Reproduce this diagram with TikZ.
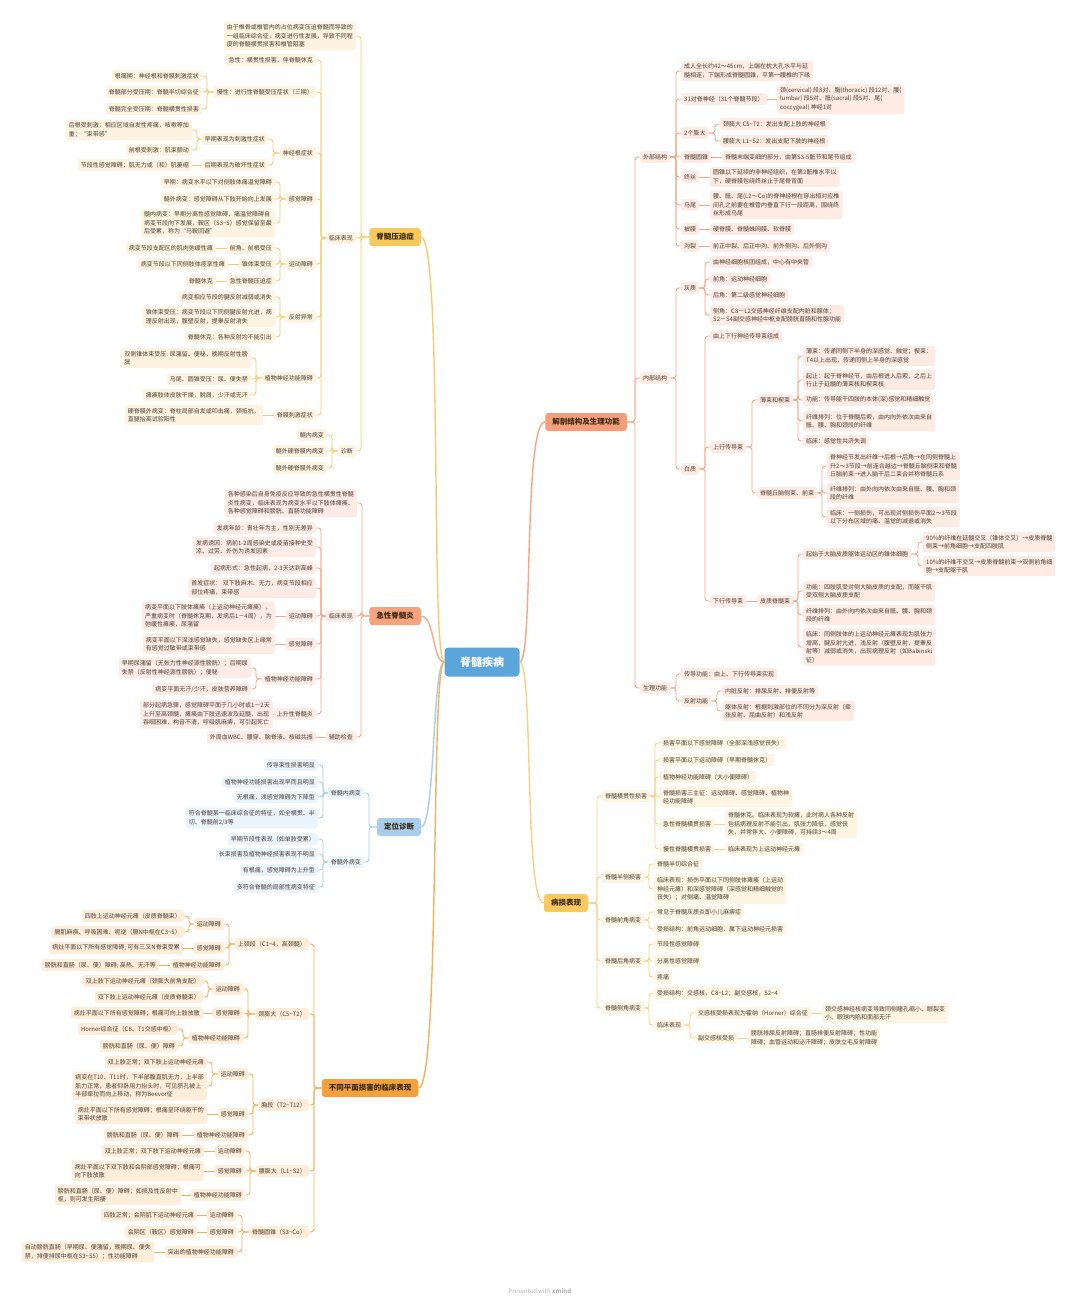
\documentclass[tikz,border=0pt]{standalone}
\usepackage{fontspec}
\newfontfamily\cjk{Noto Sans CJK SC}
\usepackage{tikz}
\usepackage{xcolor}
\definecolor{ctrB}{HTML}{5AA6DA}
\definecolor{txt}{HTML}{4A3F35}
\definecolor{hubtxt}{HTML}{3B2A14}
\definecolor{yMain}{HTML}{F8C95B}\definecolor{yLeaf}{HTML}{FDF3E0}\definecolor{yLine}{HTML}{F6CC70}
\definecolor{sMain}{HTML}{F6A27C}\definecolor{sLeaf}{HTML}{FDECE5}\definecolor{sLine}{HTML}{F6AA88}
\definecolor{bMain}{HTML}{A8CDEE}\definecolor{bLeaf}{HTML}{EBF3FB}\definecolor{bLine}{HTML}{A9CCEA}
\definecolor{oMain}{HTML}{F3A23B}\definecolor{oLeaf}{HTML}{FDEDD9}\definecolor{oLine}{HTML}{F4B05A}
\definecolor{cMain}{HTML}{F59E7A}\definecolor{cLeaf}{HTML}{FDEBE4}\definecolor{cLine}{HTML}{F6A585}
\definecolor{gMain}{HTML}{F8C95E}\definecolor{gLeaf}{HTML}{FDF4E1}\definecolor{gLine}{HTML}{F8D282}

\begin{document}
\begin{tikzpicture}[x=1pt,y=-1pt,
  leaf/.style={rounded corners=2.5pt,inner xsep=3pt,inner ysep=3pt,align=left,
               text=txt,font=\cjk\fontsize{6}{8.5}\selectfont},
  yl/.style={leaf,fill=yLeaf,anchor=east}, sl/.style={leaf,fill=sLeaf,anchor=east},
  bl/.style={leaf,fill=bLeaf,anchor=east}, ol/.style={leaf,fill=oLeaf,anchor=east},
  cl/.style={leaf,fill=cLeaf,anchor=west}, gl/.style={leaf,fill=gLeaf,anchor=west},
  hub/.style={rounded corners=3pt,inner xsep=7pt,minimum height=18pt,text=hubtxt,
              font=\cjk\fontsize{7.5}{9}\selectfont\bfseries},
  ctr/.style={rounded corners=4pt,fill=ctrB,text=white,minimum width=75pt,minimum height=29pt,
              font=\cjk\fontsize{11}{13}\selectfont\bfseries},
  lnY/.style={yLine,line width=0.9pt,rounded corners=3pt},
  lnS/.style={sLine,line width=0.9pt,rounded corners=3pt},
  lnB/.style={bLine,line width=0.9pt,rounded corners=3pt},
  lnO/.style={oLine,line width=0.9pt,rounded corners=3pt},
  lnC/.style={cLine,line width=0.9pt,rounded corners=3pt},
  lnG/.style={gLine,line width=0.9pt,rounded corners=3pt}
]
\fill[white] (0,0) rectangle (1080,1312);
\useasboundingbox (0,0) rectangle (1080,1312);

% centre
\node[ctr] (ctr) at (482,662) {脊髓疾病};

% ---- 脊髓压迫症
\node[hub,fill=yMain] (ya) at (395,237) {脊髓压迫症};
\node[yl] (yaDef)  at (356,36)  {由于椎骨或椎管内的占位病变压迫脊髓而导致的\\一组临床综合征，病变进行性发展，导致不同程\\度的脊髓横贯损害和椎管阻塞};
\node[yl] (yaClin) at (356,238) {临床表现};
\node[yl] (yaDiag) at (356,451) {诊断};
\node[yl] (yaAcu)  at (316,60)  {急性：横贯性损害，伴脊髓休克};
\node[yl] (yaChr)  at (316,92)  {慢性：进行性脊髓受压症状（三期）};
\node[yl] (yaRoot) at (316,153) {神经根症状};
\node[yl] (yaSen)  at (316,199) {感觉障碍};
\node[yl] (yaMot)  at (316,264) {运动障碍};
\node[yl] (yaRef)  at (316,317) {反射异常};
\node[yl] (yaAut)  at (316,378) {植物神经功能障碍};
\node[yl] (yaMen)  at (316,415) {脊膜刺激症状};
\node[yl] (yaChr1) at (202,76)  {根痛期：神经根和脊膜刺激症状};
\node[yl] (yaChr2) at (202,92)  {脊髓部分受压期：脊髓半切综合征};
\node[yl] (yaChr3) at (202,109) {脊髓完全受压期：脊髓横贯性损害};
\node[yl] (yaRt1)  at (268,139) {早期表现为刺激性症状};
\node[yl] (yaRt2)  at (268,165) {后期表现为破坏性症状};
\node[yl] (yaRt1a) at (192,130) {后根受刺激：相应区域自发性疼痛，咳嗽等加\\重；“束带感”};
\node[yl] (yaRt1b) at (192,150) {前根受刺激：肌束颤动};
\node[yl] (yaRt2a) at (192,165) {节段性感觉障碍；肌无力或（和）肌萎缩};
\node[yl] (yaSen1) at (275,182) {早期：病变水平以下对侧肢体痛温觉障碍};
\node[yl] (yaSen2) at (275,199) {髓外病变：感觉障碍从下肢开始向上发展};
\node[yl] (yaSen3) at (275,223) {髓内病变：早期分离性感觉障碍，痛温觉障碍自\\病变节段向下发展，鞍区（S3\textasciitilde 5）感觉保留至最\\后受累，称为“马鞍回避”};
\node[yl] (yaMot1) at (275,248) {前角、前根受压};
\node[yl] (yaMot2) at (275,264) {锥体束受压};
\node[yl] (yaMot3) at (275,281) {急性脊髓压迫症};
\node[yl] (yaMot1a) at (216,248) {病变节段支配区的肌肉弛缓性瘫};
\node[yl] (yaMot2a) at (228,264) {病变节段以下同侧肢体痉挛性瘫};
\node[yl] (yaMot3a) at (216,281) {脊髓休克};
\node[yl] (yaRef1) at (275,297) {病变相应节段的腱反射减弱或消失};
\node[yl] (yaRef2) at (275,317) {锥体束受压：病变节段以下同侧腱反射亢进，病\\理反射出现，腹壁反射，提睾反射消失};
\node[yl] (yaRef3) at (275,337) {脊髓休克：各种反射均不能引出};
\node[yl] (yaAut1) at (251,358) {双侧锥体束受压: 尿潴留、便秘，晚期反射性膀\\胱};
\node[yl] (yaAut2) at (251,379) {马尾、圆锥受压：尿、便失禁};
\node[yl] (yaAut3) at (251,395) {瘫痪肢体皮肤干燥，脱屑，少汗或无汗};
\node[yl] (yaMen1) at (263,415) {硬脊膜外病变：脊柱局部自发或叩击痛，颈抵抗，\\直腿抬高试验阳性};
\node[yl] (yaDg1)  at (327,435) {髓内病变};
\node[yl] (yaDg2)  at (327,451) {髓外硬脊膜内病变};
\node[yl] (yaDg3)  at (327,468) {髓外硬脊膜外病变};
\draw[lnY] (yaDef.east)--++(5,0)|-(ya.west); \draw[lnY] (yaClin.east)--++(5,0)|-(ya.west);
\draw[lnY] (yaDiag.east)--++(5,0)|-(ya.west);
\draw[lnY] (yaAcu.east)--++(5,0)|-(yaClin.west); \draw[lnY] (yaChr.east)--++(5,0)|-(yaClin.west);
\draw[lnY] (yaRoot.east)--++(5,0)|-(yaClin.west); \draw[lnY] (yaSen.east)--++(5,0)|-(yaClin.west);
\draw[lnY] (yaMot.east)--++(5,0)|-(yaClin.west); \draw[lnY] (yaRef.east)--++(5,0)|-(yaClin.west);
\draw[lnY] (yaAut.east)--++(5,0)|-(yaClin.west); \draw[lnY] (yaMen.east)--++(5,0)|-(yaClin.west);
\draw[lnY] (yaChr1.east)--++(5,0)|-(yaChr.west); \draw[lnY] (yaChr2.east)--++(5,0)|-(yaChr.west);
\draw[lnY] (yaChr3.east)--++(5,0)|-(yaChr.west);
\draw[lnY] (yaRt1.east)--++(5,0)|-(yaRoot.west); \draw[lnY] (yaRt2.east)--++(5,0)|-(yaRoot.west);
\draw[lnY] (yaRt1a.east)--++(5,0)|-(yaRt1.west); \draw[lnY] (yaRt1b.east)--++(5,0)|-(yaRt1.west);
\draw[lnY] (yaRt2a.east)--(yaRt2.west);
\draw[lnY] (yaSen1.east)--++(5,0)|-(yaSen.west); \draw[lnY] (yaSen2.east)--++(5,0)|-(yaSen.west);
\draw[lnY] (yaSen3.east)--++(5,0)|-(yaSen.west);
\draw[lnY] (yaMot1.east)--++(5,0)|-(yaMot.west); \draw[lnY] (yaMot2.east)--++(5,0)|-(yaMot.west);
\draw[lnY] (yaMot3.east)--++(5,0)|-(yaMot.west);
\draw[lnY] (yaMot1a.east)--(yaMot1.west); \draw[lnY] (yaMot2a.east)--(yaMot2.west);
\draw[lnY] (yaMot3a.east)--(yaMot3.west);
\draw[lnY] (yaRef1.east)--++(5,0)|-(yaRef.west); \draw[lnY] (yaRef2.east)--++(5,0)|-(yaRef.west);
\draw[lnY] (yaRef3.east)--++(5,0)|-(yaRef.west);
\draw[lnY] (yaAut1.east)--++(5,0)|-(yaAut.west); \draw[lnY] (yaAut2.east)--++(5,0)|-(yaAut.west);
\draw[lnY] (yaAut3.east)--++(5,0)|-(yaAut.west);
\draw[lnY] (yaMen1.east)--(yaMen.west);
\draw[lnY] (yaDg1.east)--++(5,0)|-(yaDiag.west); \draw[lnY] (yaDg2.east)--++(5,0)|-(yaDiag.west);
\draw[lnY] (yaDg3.east)--++(5,0)|-(yaDiag.west);

% ---- 急性脊髓炎
\node[hub,fill=sMain] (jx) at (395,616) {急性脊髓炎};
\node[sl] (jxDef)   at (357,503) {各种感染后自身免疫反应导致的急性横贯性脊髓\\炎性病变，临床表现为病变水平以下肢体瘫痪、\\各种感觉障碍和膀胱、直肠功能障碍};
\node[sl] (jxClin)  at (356,616) {临床表现};
\node[sl] (jxAux)   at (356,737) {辅助检查};
\node[sl] (jxAge)   at (316,528) {发病年龄：青壮年为主，性别无差异};
\node[sl] (jxCause) at (316,547) {发病诱因：病前1-2周感染史或疫苗接种史受\\凉、过劳、外伤为诱发因素};
\node[sl] (jxOnset) at (316,568) {起病形式：急性起病，2-3天达到高峰};
\node[sl] (jxFirst) at (316,588) {首发症状： 双下肢麻木、无力，病变节段相应\\部位疼痛，束带感};
\node[sl] (jxMot)   at (316,616) {运动障碍};
\node[sl] (jxSen)   at (316,644) {感觉障碍};
\node[sl] (jxAut)   at (316,679) {植物神经功能障碍};
\node[sl] (jxAsc)   at (316,714) {上升性脊髓炎};
\node[sl] (jxMot1)  at (275,616) {病变平面以下肢体瘫痪（上运动神经元瘫痪），\\严重病变时（脊髓休克期，发病后1－4周），为\\弛缓性瘫痪，尿潴留};
\node[sl] (jxSen1)  at (275,644) {病变平面以下深浅感觉缺失，感觉缺失区上缘常\\有感觉过敏带或束带感};
\node[sl] (jxAut1)  at (251,668) {早期尿潴留（无张力性神经源性膀胱）；后期尿\\失禁（反射性神经源性膀胱）；便秘};
\node[sl] (jxAut2)  at (251,689) {病变平面无汗/少汗，皮肤营养障碍};
\node[sl] (jxAsc1)  at (273,714) {部分起病急骤，感觉障碍平面于几小时或1－2天\\上升至高颈髓，瘫痪由下肢迅速波及延髓，出现\\吞咽困难，构音不清，呼吸肌麻痹，可引起死亡};
\node[sl] (jxAux1)  at (316,737) {外周血WBC、腰穿、脑脊液、核磁共振};
\draw[lnS] (jxDef.east)--++(5,0)|-(jx.west); \draw[lnS] (jxClin.east)--++(5,0)|-(jx.west);
\draw[lnS] (jxAux.east)--++(5,0)|-(jx.west);
\draw[lnS] (jxAge.east)--++(5,0)|-(jxClin.west); \draw[lnS] (jxCause.east)--++(5,0)|-(jxClin.west);
\draw[lnS] (jxOnset.east)--++(5,0)|-(jxClin.west); \draw[lnS] (jxFirst.east)--++(5,0)|-(jxClin.west);
\draw[lnS] (jxMot.east)--++(5,0)|-(jxClin.west); \draw[lnS] (jxSen.east)--++(5,0)|-(jxClin.west);
\draw[lnS] (jxAut.east)--++(5,0)|-(jxClin.west); \draw[lnS] (jxAsc.east)--++(5,0)|-(jxClin.west);
\draw[lnS] (jxMot1.east)--(jxMot.west); \draw[lnS] (jxSen1.east)--(jxSen.west);
\draw[lnS] (jxAut1.east)--++(5,0)|-(jxAut.west); \draw[lnS] (jxAut2.east)--++(5,0)|-(jxAut.west);
\draw[lnS] (jxAsc1.east)--(jxAsc.west); \draw[lnS] (jxAux1.east)--(jxAux.west);

% ---- 定位诊断
\node[hub,fill=bMain] (dw) at (399,827) {定位诊断};
\node[bl] (dwIn)   at (364,793) {脊髓内病变};
\node[bl] (dwOut)  at (364,862) {脊髓外病变};
\node[bl] (dwIn1)  at (318,765) {传导束性损害明显};
\node[bl] (dwIn2)  at (318,782) {植物神经功能损害出现早而且明显};
\node[bl] (dwIn3)  at (318,797) {无根痛，浅感觉障碍为下降型};
\node[bl] (dwIn4)  at (318,818) {符合脊髓某一临床综合征的特征，如全横贯、半\\切、脊髓前2/3等};
\node[bl] (dwOut1) at (318,839) {早期节段性表现（如单肢受累）};
\node[bl] (dwOut2) at (318,854) {长束损害及植物神经损害表现不明显};
\node[bl] (dwOut3) at (318,870) {有根痛，感觉障碍为上升型};
\node[bl] (dwOut4) at (318,887) {多符合脊髓的局部性病变特征};
\draw[lnB] (dwIn.east)--++(5,0)|-(dw.west); \draw[lnB] (dwOut.east)--++(5,0)|-(dw.west);
\draw[lnB] (dwIn1.east)--++(5,0)|-(dwIn.west); \draw[lnB] (dwIn2.east)--++(5,0)|-(dwIn.west);
\draw[lnB] (dwIn3.east)--++(5,0)|-(dwIn.west); \draw[lnB] (dwIn4.east)--++(5,0)|-(dwIn.west);
\draw[lnB] (dwOut1.east)--++(5,0)|-(dwOut.west); \draw[lnB] (dwOut2.east)--++(5,0)|-(dwOut.west);
\draw[lnB] (dwOut3.east)--++(5,0)|-(dwOut.west); \draw[lnB] (dwOut4.east)--++(5,0)|-(dwOut.west);

% ---- 不同平面损害的临床表现
\node[hub,fill=oMain] (bt) at (370,1088) {不同平面损害的临床表现};
\node[ol] (btC)  at (309,944)  {上颈段（C1\textasciitilde 4，高颈髓）};
\node[ol] (btE)  at (309,1014) {颈膨大（C5\textasciitilde T2）};
\node[ol] (btT)  at (309,1105) {胸段（T2\textasciitilde T12）};
\node[ol] (btL)  at (309,1171) {腰膨大（L1\textasciitilde S2）};
\node[ol] (btS)  at (309,1232) {脊髓圆锥（S3\textasciitilde Co）};
\node[ol] (btCm) at (224,924) {运动障碍};
\node[ol] (btCs) at (224,948) {感觉障碍};
\node[ol] (btCa) at (224,965) {植物神经功能障碍};
\node[ol] (btCm1) at (184,916) {四肢上运动神经元瘫（皮质脊髓束）};
\node[ol] (btCm2) at (184,932) {膈肌麻痹、呼吸困难、呃逆（膈N中枢在C3\textasciitilde 5）};
\node[ol] (btCs1) at (183,948) {病灶平面以下所有感觉障碍; 可有三叉N脊束受累};
\node[ol] (btCa1) at (159,965) {膀胱和直肠（尿、便）障碍; 高热、无汗等};
\node[ol] (btEm) at (243,989)  {运动障碍};
\node[ol] (btEs) at (243,1013) {感觉障碍};
\node[ol] (btEa) at (243,1038) {植物神经功能障碍};
\node[ol] (btEm1) at (203,981)  {双上肢下运动神经元瘫（颈膨大前角支配）};
\node[ol] (btEm2) at (203,997)  {双下肢上运动神经元瘫（皮质脊髓束）};
\node[ol] (btEs1) at (203,1013) {病灶平面以下所有感觉障碍；根痛可向上肢放散};
\node[ol] (btEa1) at (178,1029) {Horner综合征（C8、T1交感中枢）};
\node[ol] (btEa2) at (178,1046) {膀胱和直肠（尿、便）障碍};
\node[ol] (btTm) at (248,1074) {运动障碍};
\node[ol] (btTs) at (248,1114) {感觉障碍};
\node[ol] (btTa) at (248,1135) {植物神经功能障碍};
\node[ol] (btTm1) at (207,1062) {双上肢正常；双下肢上运动神经元瘫};
\node[ol] (btTm2) at (207,1086) {病变在T10、T11时，下半部腹直肌无力，上半部\\肌力正常，患者仰卧用力抬头时，可见脐孔被上\\半部牵拉而向上移动，称为Beevor征};
\node[ol] (btTs1) at (207,1114) {病灶平面以下所有感觉障碍；根痛呈环绕躯干的\\束带状放散};
\node[ol] (btTa1) at (182,1135) {膀胱和直肠（尿、便）障碍};
\node[ol] (btLm) at (245,1151) {运动障碍};
\node[ol] (btLs) at (245,1171) {感觉障碍};
\node[ol] (btLa) at (245,1195) {植物神经功能障碍};
\node[ol] (btLm1) at (204,1151) {双上肢正常；双下肢下运动神经元瘫};
\node[ol] (btLs1) at (204,1171) {病灶平面以下双下肢和会阴部感觉障碍；根痛可\\向下肢放散};
\node[ol] (btLa1) at (181,1195) {膀胱和直肠（尿、便）障碍；如损及性反射中\\枢，则可发生阳痿};
\node[ol] (btSm) at (237,1215) {运动障碍};
\node[ol] (btSs) at (237,1232) {感觉障碍};
\node[ol] (btSa) at (237,1252) {突出的植物神经功能障碍};
\node[ol] (btSm1) at (197,1215) {四肢正常；会阴肌下运动神经元瘫};
\node[ol] (btSs1) at (197,1232) {会阴区（鞍区）感觉障碍};
\node[ol] (btSa1) at (154,1252) {自动膀胱直肠（早期尿、便潴留，晚期尿、便失\\禁，排便排尿中枢在S3\textasciitilde S5）；性功能障碍};
\draw[lnO] (btC.east)--++(5,0)|-(bt.west); \draw[lnO] (btE.east)--++(5,0)|-(bt.west);
\draw[lnO] (btT.east)--++(5,0)|-(bt.west); \draw[lnO] (btL.east)--++(5,0)|-(bt.west);
\draw[lnO] (btS.east)--++(5,0)|-(bt.west);
\draw[lnO] (btCm.east)--++(5,0)|-(btC.west); \draw[lnO] (btCs.east)--++(5,0)|-(btC.west);
\draw[lnO] (btCa.east)--++(5,0)|-(btC.west);
\draw[lnO] (btCm1.east)--++(5,0)|-(btCm.west); \draw[lnO] (btCm2.east)--++(5,0)|-(btCm.west);
\draw[lnO] (btCs1.east)--(btCs.west); \draw[lnO] (btCa1.east)--(btCa.west);
\draw[lnO] (btEm.east)--++(5,0)|-(btE.west); \draw[lnO] (btEs.east)--++(5,0)|-(btE.west);
\draw[lnO] (btEa.east)--++(5,0)|-(btE.west);
\draw[lnO] (btEm1.east)--++(5,0)|-(btEm.west); \draw[lnO] (btEm2.east)--++(5,0)|-(btEm.west);
\draw[lnO] (btEs1.east)--(btEs.west);
\draw[lnO] (btEa1.east)--++(5,0)|-(btEa.west); \draw[lnO] (btEa2.east)--++(5,0)|-(btEa.west);
\draw[lnO] (btTm.east)--++(5,0)|-(btT.west); \draw[lnO] (btTs.east)--++(5,0)|-(btT.west);
\draw[lnO] (btTa.east)--++(5,0)|-(btT.west);
\draw[lnO] (btTm1.east)--++(5,0)|-(btTm.west); \draw[lnO] (btTm2.east)--++(5,0)|-(btTm.west);
\draw[lnO] (btTs1.east)--(btTs.west); \draw[lnO] (btTa1.east)--(btTa.west);
\draw[lnO] (btLm.east)--++(5,0)|-(btL.west); \draw[lnO] (btLs.east)--++(5,0)|-(btL.west);
\draw[lnO] (btLa.east)--++(5,0)|-(btL.west);
\draw[lnO] (btLm1.east)--(btLm.west); \draw[lnO] (btLs1.east)--(btLs.west);
\draw[lnO] (btLa1.east)--(btLa.west);
\draw[lnO] (btSm.east)--++(5,0)|-(btS.west); \draw[lnO] (btSs.east)--++(5,0)|-(btS.west);
\draw[lnO] (btSa.east)--++(5,0)|-(btS.west);
\draw[lnO] (btSm1.east)--(btSm.west); \draw[lnO] (btSs1.east)--(btSs.west);
\draw[lnO] (btSa1.east)--(btSa.west);

% ---- 解剖结构及生理功能
\node[hub,fill=cMain] (jp) at (586,422) {解剖结构及生理功能};
\node[cl] (jpExt)   at (640,157) {外部结构};
\node[cl] (jpInt)   at (640,378) {内部结构};
\node[cl] (jpFun)   at (640,688) {生理功能};
\node[cl] (jpE1) at (681,71)  {成人全长约42～45cm，上端在枕大孔水平与延\\髓相连，下端形成脊髓圆锥，平第一腰椎的下缘};
\node[cl] (jpE2) at (681,99)  {31对脊神经（31个脊髓节段）};
\node[cl] (jpE3) at (681,133) {2个膨大};
\node[cl] (jpE4) at (681,157) {脊髓圆锥};
\node[cl] (jpE5) at (681,177) {终丝};
\node[cl] (jpE6) at (681,205) {马尾};
\node[cl] (jpE7) at (681,229) {被膜};
\node[cl] (jpE8) at (681,246) {沟裂};
\node[cl] (jpE2a) at (777,99)  {颈(cervical) 段8对、胸(thoracic) 段12对、腰(\\lumbar) 段5对、骶(sacral) 段5对、尾(\\coccygeal) 神经1对};
\node[cl] (jpE3a) at (720,124) {颈膨大 C5\textasciitilde T2：发出支配上肢的神经根};
\node[cl] (jpE3b) at (720,141) {腰膨大 L1\textasciitilde S2：发出支配下肢的神经根};
\node[cl] (jpE4a) at (722,157) {脊髓末端变细的部分，由第S3-5骶节和尾节组成};
\node[cl] (jpE5a) at (710,177) {圆锥以下延续的非神经组织，在第2骶椎水平以\\下，硬脊膜包绕终丝止于尾骨背面};
\node[cl] (jpE6a) at (710,205) {腰、骶、尾(L2～Co)的脊神经根在穿出相对应椎\\间孔之前要在椎管内垂直下行一段距离，围绕终\\丝形成马尾};
\node[cl] (jpE7a) at (710,229) {硬脊膜、脊髓蛛网膜、软脊膜};
\node[cl] (jpE8a) at (710,246) {前正中裂、后正中沟、前外侧沟、后外侧沟};
\node[cl] (jpGray)  at (681,288) {灰质};
\node[cl] (jpWhite) at (681,469) {白质};
\node[cl] (jpG1) at (710,262) {由神经细胞核团组成，中心有中央管};
\node[cl] (jpG2) at (710,279) {前角：运动神经细胞};
\node[cl] (jpG3) at (710,295) {后角：第二级感觉神经细胞};
\node[cl] (jpG4) at (710,315) {侧角：C8－L2交感神经纤维支配内脏和腺体；\\S2－S4副交感神经中枢支配膀胱直肠和性腺功能};
\node[cl] (jpW1)   at (710,336) {由上下行神经传导束组成};
\node[cl] (jpUp)   at (710,447) {上行传导束};
\node[cl] (jpDown) at (710,601) {下行传导束};
\node[cl] (jpThin) at (757,400) {薄束和楔束};
\node[cl] (jpSpt)  at (757,493) {脊髓丘脑侧束、前束};
\node[cl] (jpTh1) at (803,356) {薄束：传递同侧下半身的深感觉、触觉；楔束：\\T4以上出现，传递同侧上半身的深感觉};
\node[cl] (jpTh2) at (803,380) {起止：起于脊神经节，由后根进入后索，之后上\\行止于延髓的薄束核和楔束核};
\node[cl] (jpTh3) at (803,400) {功能：传导躯干四肢的本体(深)感觉和精细触觉};
\node[cl] (jpTh4) at (803,421) {纤维排列：位于脊髓后索，由内向外依次由来自\\骶、腰、胸和颈段的纤维};
\node[cl] (jpTh5) at (803,441) {临床：感觉性共济失调};
\node[cl] (jpSp1) at (827,466) {脊神经节发出纤维→后根→后角→在同侧脊髓上\\升2～3节段→前连合越边→脊髓丘脑侧束和脊髓\\丘脑前束→进入脑干后二束合并称脊髓丘系};
\node[cl] (jpSp2) at (827,493) {纤维排列：由外向内依次由来自骶、腰、胸和颈\\段的纤维};
\node[cl] (jpSp3) at (827,517) {临床：一侧损伤，可出现对侧损伤平面2～3节段\\以下分布区域的痛、温觉的减退或消失};
\node[cl] (jpCst) at (757,601) {皮质脊髓束};
\node[cl] (jpCs1) at (803,554) {起始于大脑皮质躯体运动区的锥体细胞};
\node[cl] (jpCs2) at (803,591) {功能：四肢肌受对侧大脑皮质的支配，而躯干肌\\受双侧大脑皮质支配};
\node[cl] (jpCs3) at (803,615) {纤维排列：由外向内依次由来自骶、腰、胸和颈\\段的纤维};
\node[cl] (jpCs4) at (803,647) {临床：同侧肢体的上运动神经元瘫表现为肌张力\\增高，腱反射亢进，浅反射（腹壁反射，提睾反\\射等）减弱或消失，出现病理反射（如Babinski\\征）};
\node[cl] (jpCs1a) at (923,542) {90\%的纤维在延髓交叉（锥体交叉）→皮质脊髓\\侧束→前角细胞→支配四肢肌};
\node[cl] (jpCs1b) at (923,566) {10\%的纤维不交叉→皮质脊髓前束→双侧前角细\\胞→支配躯干肌};
\node[cl] (jpF1)  at (681,674) {传导功能：由上、下行传导束实现};
\node[cl] (jpF2)  at (681,701) {反射功能};
\node[cl] (jpF2a) at (722,691) {内脏反射：排尿反射、排便反射等};
\node[cl] (jpF2b) at (722,711) {躯体反射：根据刺激部位的不同分为深反射（牵\\张反射、屈曲反射）和浅反射};
\draw[lnC] (jpExt.west)--++(-5,0)|-(jp.east); \draw[lnC] (jpInt.west)--++(-5,0)|-(jp.east);
\draw[lnC] (jpFun.west)--++(-5,0)|-(jp.east);
\draw[lnC] (jpE1.west)--++(-5,0)|-(jpExt.east); \draw[lnC] (jpE2.west)--++(-5,0)|-(jpExt.east);
\draw[lnC] (jpE3.west)--++(-5,0)|-(jpExt.east); \draw[lnC] (jpE4.west)--++(-5,0)|-(jpExt.east);
\draw[lnC] (jpE5.west)--++(-5,0)|-(jpExt.east); \draw[lnC] (jpE6.west)--++(-5,0)|-(jpExt.east);
\draw[lnC] (jpE7.west)--++(-5,0)|-(jpExt.east); \draw[lnC] (jpE8.west)--++(-5,0)|-(jpExt.east);
\draw[lnC] (jpE2a.west)--(jpE2.east);
\draw[lnC] (jpE3a.west)--++(-5,0)|-(jpE3.east); \draw[lnC] (jpE3b.west)--++(-5,0)|-(jpE3.east);
\draw[lnC] (jpE4a.west)--(jpE4.east); \draw[lnC] (jpE5a.west)--(jpE5.east);
\draw[lnC] (jpE6a.west)--(jpE6.east); \draw[lnC] (jpE7a.west)--(jpE7.east);
\draw[lnC] (jpE8a.west)--(jpE8.east);
\draw[lnC] (jpGray.west)--++(-5,0)|-(jpInt.east); \draw[lnC] (jpWhite.west)--++(-5,0)|-(jpInt.east);
\draw[lnC] (jpG1.west)--++(-5,0)|-(jpGray.east); \draw[lnC] (jpG2.west)--++(-5,0)|-(jpGray.east);
\draw[lnC] (jpG3.west)--++(-5,0)|-(jpGray.east); \draw[lnC] (jpG4.west)--++(-5,0)|-(jpGray.east);
\draw[lnC] (jpW1.west)--++(-5,0)|-(jpWhite.east); \draw[lnC] (jpUp.west)--++(-5,0)|-(jpWhite.east);
\draw[lnC] (jpDown.west)--++(-5,0)|-(jpWhite.east);
\draw[lnC] (jpThin.west)--++(-5,0)|-(jpUp.east); \draw[lnC] (jpSpt.west)--++(-5,0)|-(jpUp.east);
\draw[lnC] (jpTh1.west)--++(-5,0)|-(jpThin.east); \draw[lnC] (jpTh2.west)--++(-5,0)|-(jpThin.east);
\draw[lnC] (jpTh3.west)--++(-5,0)|-(jpThin.east); \draw[lnC] (jpTh4.west)--++(-5,0)|-(jpThin.east);
\draw[lnC] (jpTh5.west)--++(-5,0)|-(jpThin.east);
\draw[lnC] (jpSp1.west)--++(-5,0)|-(jpSpt.east); \draw[lnC] (jpSp2.west)--++(-5,0)|-(jpSpt.east);
\draw[lnC] (jpSp3.west)--++(-5,0)|-(jpSpt.east);
\draw[lnC] (jpCst.west)--(jpDown.east);
\draw[lnC] (jpCs1.west)--++(-5,0)|-(jpCst.east); \draw[lnC] (jpCs2.west)--++(-5,0)|-(jpCst.east);
\draw[lnC] (jpCs3.west)--++(-5,0)|-(jpCst.east); \draw[lnC] (jpCs4.west)--++(-5,0)|-(jpCst.east);
\draw[lnC] (jpCs1a.west)--++(-5,0)|-(jpCs1.east); \draw[lnC] (jpCs1b.west)--++(-5,0)|-(jpCs1.east);
\draw[lnC] (jpF1.west)--++(-5,0)|-(jpFun.east); \draw[lnC] (jpF2.west)--++(-5,0)|-(jpFun.east);
\draw[lnC] (jpF2a.west)--++(-5,0)|-(jpF2.east); \draw[lnC] (jpF2b.west)--++(-5,0)|-(jpF2.east);

% ---- 病损表现
\node[hub,fill=gMain] (bs) at (566,903) {病损表现};
\node[gl] (bsTr) at (602,796)  {脊髓横贯性损害};
\node[gl] (bsHe) at (602,877)  {脊髓半侧损害};
\node[gl] (bsAn) at (602,920)  {脊髓前角病变};
\node[gl] (bsPo) at (602,961)  {脊髓后角病变};
\node[gl] (bsLa) at (602,1008) {脊髓侧角病变};
\node[gl] (bsTr1) at (660,743) {损害平面以下感觉障碍（全部深浅感觉丧失）};
\node[gl] (bsTr2) at (660,760) {损害平面以下运动障碍（早期脊髓休克）};
\node[gl] (bsTr3) at (660,777) {植物神经功能障碍（大小便障碍）};
\node[gl] (bsTr4) at (660,797) {脊髓损害三主征：运动障碍、感觉障碍、植物神\\经功能障碍};
\node[gl] (bsTr5) at (660,824) {急性脊髓横贯损害};
\node[gl] (bsTr6) at (660,849) {慢性脊髓横贯损害};
\node[gl] (bsTr5a) at (725,824) {脊髓休克。临床表现为软瘫，此时病人各种反射\\包括病理反射不能引出，肌张力降低，感觉丧\\失，并常伴大、小便障碍，可持续3～4周};
\node[gl] (bsTr6a) at (725,849) {临床表现为上运动神经元瘫};
\node[gl] (bsHe1) at (654,864) {脊髓半切综合征};
\node[gl] (bsHe2) at (654,889) {临床表现：损伤平面以下同侧肢体瘫痪（上运动\\神经元瘫）和深感觉障碍（深感觉和精细触觉的\\丧失）；对侧痛、温觉障碍};
\node[gl] (bsAn1) at (654,912) {常见于脊髓灰质炎即小儿麻痹症};
\node[gl] (bsAn2) at (654,929) {受损结构：前角运动细胞，属下运动神经元损害};
\node[gl] (bsPo1) at (654,944) {节段性感觉障碍};
\node[gl] (bsPo2) at (654,961) {分离性感觉障碍};
\node[gl] (bsPo3) at (654,977) {疼痛};
\node[gl] (bsLa1) at (654,993)  {受损结构：交感核，C8\textasciitilde L2；副交感核，S2\textasciitilde 4};
\node[gl] (bsLa2) at (654,1025) {临床表现};
\node[gl] (bsSym) at (695,1013) {交感核受损表现为霍纳（Horner）综合征};
\node[gl] (bsPar) at (695,1038) {副交感核受损};
\node[gl] (bsSym1) at (822,1013) {颈交感神经核病变导致同侧瞳孔缩小、眼裂变\\小、眼球内陷和面部无汗};
\node[gl] (bsPar1) at (748,1038) {膀胱排尿反射障碍；直肠排便反射障碍；性功能\\障碍；血管运动和泌汗障碍；皮肤立毛反射障碍};
\draw[lnG] (bsTr.west)--++(-5,0)|-(bs.east); \draw[lnG] (bsHe.west)--++(-5,0)|-(bs.east);
\draw[lnG] (bsAn.west)--++(-5,0)|-(bs.east); \draw[lnG] (bsPo.west)--++(-5,0)|-(bs.east);
\draw[lnG] (bsLa.west)--++(-5,0)|-(bs.east);
\draw[lnG] (bsTr1.west)--++(-5,0)|-(bsTr.east); \draw[lnG] (bsTr2.west)--++(-5,0)|-(bsTr.east);
\draw[lnG] (bsTr3.west)--++(-5,0)|-(bsTr.east); \draw[lnG] (bsTr4.west)--++(-5,0)|-(bsTr.east);
\draw[lnG] (bsTr5.west)--++(-5,0)|-(bsTr.east); \draw[lnG] (bsTr6.west)--++(-5,0)|-(bsTr.east);
\draw[lnG] (bsTr5a.west)--(bsTr5.east); \draw[lnG] (bsTr6a.west)--(bsTr6.east);
\draw[lnG] (bsHe1.west)--++(-5,0)|-(bsHe.east); \draw[lnG] (bsHe2.west)--++(-5,0)|-(bsHe.east);
\draw[lnG] (bsAn1.west)--++(-5,0)|-(bsAn.east); \draw[lnG] (bsAn2.west)--++(-5,0)|-(bsAn.east);
\draw[lnG] (bsPo1.west)--++(-5,0)|-(bsPo.east); \draw[lnG] (bsPo2.west)--++(-5,0)|-(bsPo.east);
\draw[lnG] (bsPo3.west)--++(-5,0)|-(bsPo.east);
\draw[lnG] (bsLa1.west)--++(-5,0)|-(bsLa.east); \draw[lnG] (bsLa2.west)--++(-5,0)|-(bsLa.east);
\draw[lnG] (bsSym.west)--++(-5,0)|-(bsLa2.east); \draw[lnG] (bsPar.west)--++(-5,0)|-(bsLa2.east);
\draw[lnG] (bsSym1.west)--(bsSym.east); \draw[lnG] (bsPar1.west)--(bsPar.east);

% centre to main branches
\draw[yLine,line width=1.4pt] (ctr.west) .. controls +(-14,0) and +(22,0) .. (ya.east);
\draw[sLine,line width=1.4pt] (ctr.west) .. controls +(-12,0) and +(14,0) .. (jx.east);
\draw[bLine,line width=1.4pt] (ctr.west) .. controls +(-12,0) and +(14,0) .. (dw.east);
\draw[oLine,line width=1.4pt] (ctr.west) .. controls +(-14,0) and +(22,0) .. (bt.east);
\draw[cLine,line width=1.4pt] (ctr.east) .. controls +(14,0) and +(-22,0) .. (jp.west);
\draw[gLine,line width=1.4pt] (ctr.east) .. controls +(14,0) and +(-20,0) .. (bs.west);

\node[font=\cjk\fontsize{6}{7}\selectfont,text=black!30] (mark) at (540,1291) {Presented with \textbf{xmind}};
\end{tikzpicture}
\end{document}
